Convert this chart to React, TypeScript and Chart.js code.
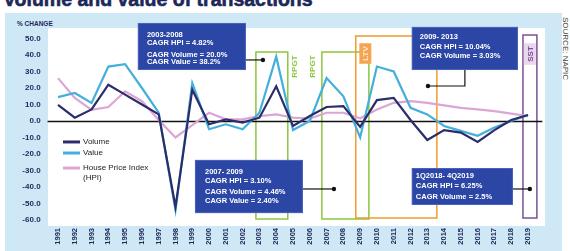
import React, { useEffect, useRef } from "react";
import { Chart, registerables } from "chart.js";

Chart.register(...registerables);

// ---------- data ----------
const years = [
  "1991", "1992", "1993", "1994", "1995", "1996", "1997", "1998", "1999", "2000",
  "2001", "2002", "2003", "2004", "2005", "2006", "2007", "2008", "2009", "2010",
  "2011", "2012", "2013", "2014", "2015", "2016", "2017", "2018", "2019",
];
const volume = [9.7, 2, 7, 22, 16, 10, 4, -52, 19, -2, 1, -1, 2, 21, -3, 3, 8.5, 9, -3.6, 12.7, 14, 0.6, -11.5, -5.5, -7, -12.7, -5.5, 0.6, 3.6];
const value = [14.5, 17, 11, 33, 34.5, 20, 5, -54, 23, -5, -2, -5, 5, 39, -5.5, 0, 26, 15, -10, 33, 30, 8, 4, -3, -6, -9, -4, 0, 3.6];
const hpi = [26, 14, 6.7, 8.5, 18, 12, 0.6, -10, -2.5, 5, 1, 1, 3, 4, 2, 1.5, 5, 5, 1.7, 7, 11, 12, 11, 9.5, 8, 7, 6, 4.5, 3];
const yTickValues = [50, 40, 30, 20, 10, 0, -10, -20, -30, -40, -50, -60];
const seriesNames = ["Volume", "Value", "House Price Index", "(HPI)"];

// ---------- annotations (in data units: category index / % change) ----------
const periodFrames = [
  { label: "RPGT", from: 11.79, to: 13.69, top: 41.8, bottom: -59.4, color: "#8cc63e", labelAt: 14.09, labelV: 33, bg: "", text: "#8cc63e" },
  { label: "RPGT", from: 15.72, to: 18.52, top: 41.8, bottom: -59.4, color: "#8cc63e", labelAt: 15.16, labelV: 33, bg: "", text: "#8cc63e" },
  { label: "LTV", from: 17.74, to: 22.57, top: 51.5, bottom: -58.8, color: "#f39a2b", labelAt: 18.31, labelV: 40.9, bg: "#f5a552", text: "#fde6c8" },
  { label: "SST", from: 27.7, to: 28.53, top: 52.1, bottom: -58.8, color: "#7d4f93", labelAt: 28.11, labelV: 40.6, bg: "#ead7ee", text: "#7d4f93" },
];

const infoBoxes = [
  {
    from: 4.76, to: 11.2, top: 59.4, bottom: 30.9, inset: 9,
    lines: ["2003-2008", "CAGR HPI = 4.82%", "CAGR Volume = 20.0%", "CAGR Value = 38.2%"],
    offsets: [12, 20, 32, 39],
    path: [[11.2, 37], [12.21, 37]],
  },
  {
    from: 21.08, to: 27.4, top: 57, bottom: 30.9, inset: 8,
    lines: ["2009- 2013", "CAGR HPI = 10.04%", "CAGR Volume = 3.03%"],
    offsets: [10, 20, 29],
    path: [[24.24, 30.9], [24.24, 21.2], [22.04, 21.2]],
  },
  {
    from: 8.16, to: 14.59, top: -23.6, bottom: -55.8, inset: 10,
    lines: ["2007- 2009", "CAGR HPI = 3.10%", "CAGR Volume = 4.46%", "CAGR Value = 2.40%"],
    offsets: [12, 21, 32, 41],
    path: [[14.59, -41.2], [16.44, -41.2]],
  },
  {
    from: 21.08, to: 27.1, top: -28.5, bottom: -50.9, inset: 4,
    lines: ["1Q2018- 4Q2019", "CAGR HPI = 6.25%", "CAGR Volume = 2.5%"],
    offsets: [8, 18, 29],
    path: [[27.1, -41.2], [28.11, -41.2]],
  },
];

const NAVY = "#2b2d6b";
const CYAN = "#45afdc";
const PINK = "#dba6d6";
const BOX_BLUE = "#2c46a6";
const TEXT_DARK = "#1d2858";
const FONT = "'Liberation Sans', Arial, sans-serif";

const annotPlugin = {
  id: "annots",
  beforeDatasetsDraw(chart: any) {
    const { ctx } = chart;
    const x = chart.scales.x;
    const y = chart.scales.y;
    ctx.save();
    for (const p of periodFrames) {
      const l = x.getPixelForValue(p.from);
      const r = x.getPixelForValue(p.to);
      const t = y.getPixelForValue(p.top);
      const b = y.getPixelForValue(p.bottom);
      ctx.strokeStyle = p.color;
      ctx.lineWidth = 1.5;
      ctx.strokeRect(l, t, r - l, b - t);
    }
    const y0 = Math.round(y.getPixelForValue(0)) + 0.5;
    ctx.strokeStyle = "#111";
    ctx.lineWidth = 1.3;
    ctx.beginPath();
    ctx.moveTo(x.left - 2, y0);
    ctx.lineTo(x.right + 6, y0);
    ctx.stroke();
    ctx.restore();
  },
  afterDatasetsDraw(chart: any) {
    const { ctx } = chart;
    const x = chart.scales.x;
    const y = chart.scales.y;
    ctx.save();
    for (const p of periodFrames) {
      const px = x.getPixelForValue(p.labelAt);
      const py = y.getPixelForValue(p.labelV);
      ctx.font = `bold 8px ${FONT}`;
      const w = ctx.measureText(p.label).width;
      if (p.bg) {
        ctx.fillStyle = p.bg;
        ctx.fillRect(px - 6, py - w / 2 - 3, 12, w + 6);
      }
      ctx.translate(px, py);
      ctx.rotate(-Math.PI / 2);
      ctx.fillStyle = p.text;
      ctx.textAlign = "center";
      ctx.textBaseline = "middle";
      ctx.fillText(p.label, 0, 0.5);
      ctx.setTransform(1, 0, 0, 1, 0, 0);
    }
    for (const bx of infoBoxes) {
      const l = x.getPixelForValue(bx.from);
      const r = x.getPixelForValue(bx.to);
      const t = y.getPixelForValue(bx.top);
      const b = y.getPixelForValue(bx.bottom);
      ctx.strokeStyle = "#111";
      ctx.lineWidth = 1.2;
      ctx.beginPath();
      bx.path.forEach((pt: number[], i: number) => {
        const px = x.getPixelForValue(pt[0]);
        const py = y.getPixelForValue(pt[1]);
        if (i === 0) ctx.moveTo(px, py);
        else ctx.lineTo(px, py);
      });
      ctx.stroke();
      const last = bx.path[bx.path.length - 1];
      ctx.fillStyle = "#111";
      ctx.beginPath();
      ctx.arc(x.getPixelForValue(last[0]), y.getPixelForValue(last[1]), 2.2, 0, Math.PI * 2);
      ctx.fill();
      ctx.fillStyle = BOX_BLUE;
      ctx.fillRect(l, t, r - l, b - t);
      ctx.strokeStyle = "#4a62c0";
      ctx.lineWidth = 1;
      ctx.strokeRect(l + 0.5, t + 0.5, r - l - 1, b - t - 1);
      ctx.fillStyle = "#ffffff";
      ctx.font = `bold 7.5px ${FONT}`;
      ctx.textAlign = "left";
      ctx.textBaseline = "middle";
      bx.lines.forEach((ln: string, i: number) => {
        ctx.fillText(ln, l + bx.inset, t + bx.offsets[i]);
      });
    }
    const lx = x.left + 13.4;
    const items = [
      { color: NAVY, v: -12.7 },
      { color: CYAN, v: -19.4 },
      { color: PINK, v: -28.5 },
    ];
    items.forEach((it, i) => {
      const py = y.getPixelForValue(it.v);
      ctx.strokeStyle = it.color;
      ctx.lineWidth = 3;
      ctx.beginPath();
      ctx.moveTo(lx, py);
      ctx.lineTo(lx + 17, py);
      ctx.stroke();
      ctx.fillStyle = "#222";
      ctx.font = `8px ${FONT}`;
      ctx.textAlign = "left";
      ctx.textBaseline = "middle";
      ctx.fillText(seriesNames[i], lx + 20, py);
      if (i === 2) ctx.fillText(seriesNames[3], lx + 20, py + 10);
    });
    ctx.restore();
  },
};

export default function App() {
  const ref = useRef<HTMLCanvasElement | null>(null);

  useEffect(() => {
    document.body.style.margin = "0";
    const canvas = ref.current;
    if (!canvas) return;
    const chart = new Chart(canvas, {
      type: "line",
      data: {
        labels: years,
        datasets: [
          { label: "Volume", data: volume, borderColor: NAVY, borderWidth: 2.2, pointRadius: 0, tension: 0 },
          { label: "Value", data: value, borderColor: CYAN, borderWidth: 2.2, pointRadius: 0, tension: 0 },
          { label: "House Price Index (HPI)", data: hpi, borderColor: PINK, borderWidth: 2.2, pointRadius: 0, tension: 0 },
        ],
      },
      options: {
        animation: false,
        responsive: false,
        maintainAspectRatio: false,
        devicePixelRatio: 1,
        layout: { padding: { left: 0, right: 33.6, top: 38.5, bottom: 0 } },
        plugins: { legend: { display: false }, tooltip: { enabled: false } },
        scales: {
          x: {
            type: "category",
            offset: true,
            grid: { display: false, drawTicks: false },
            border: { display: false },
            ticks: {
              autoSkip: false,
              minRotation: 90,
              maxRotation: 90,
              padding: 8,
              color: TEXT_DARK,
              font: { family: FONT, size: 7.5, weight: "bold" },
            },
            afterFit: (s: any) => {
              s.height = 31;
            },
          },
          y: {
            min: -60,
            max: 50,
            grid: { display: false, drawTicks: false },
            border: { display: false },
            afterBuildTicks: (s: any) => {
              s.ticks = yTickValues.map((v) => ({ value: v }));
            },
            ticks: {
              padding: 9,
              color: TEXT_DARK,
              font: { family: FONT, size: 8, weight: "bold" },
              callback: (v: any) => Number(v).toFixed(1),
            },
            afterFit: (s: any) => {
              s.width = 49.6;
            },
          },
        },
      },
      plugins: [annotPlugin],
    } as any);
    return () => chart.destroy();
  }, []);

  return (
    <div style={{ position: "fixed", left: 0, top: 0, width: 570, height: 251, background: "#fff", overflow: "hidden" }}>
      <div
        style={{
          position: "absolute",
          left: 3,
          top: -10,
          fontFamily: FONT,
          fontWeight: 900,
          fontSize: 19.5,
          lineHeight: "18px",
          color: TEXT_DARK,
          whiteSpace: "nowrap",
          WebkitTextStroke: "0.6px " + TEXT_DARK,
        }}
      >
        Volume and value of transactions
      </div>
      <div style={{ position: "absolute", left: 5, top: 13, width: 557, height: 238, background: "#cfe8f5" }} />
      <div style={{ position: "absolute", left: 48, top: 28, width: 497, height: 198, background: "#ffffff" }} />
      <div
        style={{
          position: "absolute",
          left: 17,
          top: 20,
          fontFamily: FONT,
          fontWeight: 700,
          fontSize: 6.5,
          lineHeight: "8px",
          color: TEXT_DARK,
          whiteSpace: "nowrap",
        }}
      >
        % CHANGE
      </div>
      <div
        style={{
          position: "absolute",
          left: 561,
          top: 17,
          writingMode: "vertical-rl",
          fontFamily: FONT,
          fontSize: 8,
          lineHeight: "9px",
          color: "#444",
          whiteSpace: "nowrap",
        }}
      >
        SOURCE: NAPIC
      </div>
      <canvas ref={ref} width={570} height={251} style={{ position: "absolute", left: 0, top: 0, width: 570, height: 251 }} />
    </div>
  );
}
